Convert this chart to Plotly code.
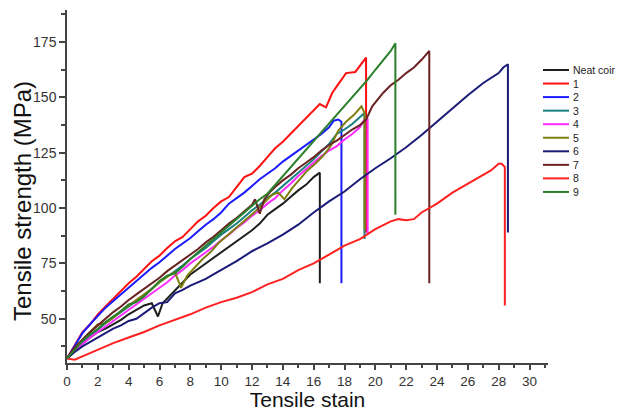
import plotly.graph_objects as go

# ---------------- data ----------------
names = ["Neat coir", "1", "2", "3", "4", "5", "6", "7", "8", "9"]
colors = ["#1e1e1e", "#ff1010", "#1a1aff", "#1a7f7f", "#ff2bff",
          "#7f7f10", "#1a1a78", "#6b2222", "#ff2020", "#2a7f2a"]

neat_x = [0, 0.5, 1, 1.5, 2, 2.5, 3, 3.5, 4, 4.5, 5, 5.5, 5.9, 6.2, 6.6, 7, 7.5, 8, 8.5, 9, 9.5, 10,
          10.5, 11, 11.5, 12, 12.5, 13, 13.5, 14, 14.5, 15, 15.5, 16, 16.4, 16.4]
neat_y = [32, 36, 39, 41.5, 44, 45.5, 47.5, 49.5, 52, 54, 56, 57, 51, 57, 60, 63, 66.5, 70, 72.5, 75, 77.5, 80,
          82.5, 85, 87.5, 90, 93, 97, 99.5, 102, 105, 108, 110.5, 114, 116, 66]

s1_x = [0, 0.5, 1, 1.5, 2, 2.5, 3, 3.5, 4, 4.5, 5, 5.5, 6, 6.5, 7, 7.5, 8, 8.5, 9, 9.5, 10, 10.5, 11, 11.5,
        12, 12.5, 13, 13.5, 14, 14.5, 15, 15.5, 16, 16.4, 16.8, 17.2, 17.6, 18.1, 18.7, 19.1, 19.4, 19.4]
s1_y = [32, 38, 44, 47.5, 52, 55.5, 59, 62.5, 66, 69, 72.5, 76, 78.5, 82, 85, 87, 90.5, 94, 96.5, 100, 103, 105,
        109.5, 114, 115.5, 119, 123, 127, 130, 133.5, 137, 140.5, 144, 147, 145.5, 152, 156, 161, 161.5, 165.5,
        168, 89]

s2_x = [0, 0.5, 1, 1.5, 2, 2.5, 3, 3.5, 4, 4.5, 5, 5.5, 6, 6.5, 7, 7.5, 8, 8.5, 9, 9.5, 10, 10.5, 11, 11.5,
        12, 12.5, 13, 13.5, 14, 14.5, 15, 15.5, 16, 16.5, 17, 17.3, 17.6, 17.8, 17.8]
s2_y = [32, 38, 43.5, 47.5, 51.5, 55, 58, 61, 64, 67, 70, 73, 75.5, 78.5, 81.5, 84, 86.5, 89.5, 92.5, 95, 98,
        102, 104.5, 107, 110, 113, 115.5, 118, 121, 123.5, 126, 128.5, 131, 133.5, 136.5, 139.5, 140, 139, 66]

s3_x = [0, 0.5, 1, 1.5, 2, 2.5, 3, 3.5, 4, 4.5, 5, 5.5, 6, 6.5, 7, 7.5, 8, 8.5, 9, 9.5, 10, 10.5, 11, 11.5,
        12, 12.5, 13, 13.5, 14, 14.5, 15, 15.5, 16, 16.5, 17, 17.5, 18, 18.5, 19, 19.3, 19.3]
s3_y = [32, 36, 39.5, 42.5, 45, 48, 50.5, 53, 55.5, 58, 60.5, 63.5, 66.5, 69, 71.5, 74, 77, 79.5, 82, 85, 88,
        90.5, 93, 96, 99, 101.5, 104.5, 107, 110, 113, 116, 119, 122, 125.5, 129, 133.5, 135.5, 138, 141, 143, 86]

s4_x = [0, 0.5, 1, 1.5, 2, 2.5, 3, 3.5, 4, 4.5, 5, 5.5, 6, 6.5, 7, 7.5, 8, 8.5, 9, 9.5, 10, 10.5, 11, 11.5,
        12, 12.5, 13, 13.5, 14, 14.5, 15, 15.5, 16, 16.5, 17, 17.5, 18, 18.5, 19, 19.3, 19.5, 19.5]
s4_y = [32, 35.5, 38.5, 41.5, 44, 46.5, 49, 51.5, 54, 56.5, 59, 61.5, 64, 66.5, 69.5, 72, 75, 77.5, 80, 82.5,
        85.5, 88, 91, 93.5, 96.5, 99, 102, 104.5, 108, 111, 114.5, 117.5, 120.5, 123.5, 126, 128, 131, 133.5,
        136.5, 140, 140, 88]

s5_x = [0, 0.5, 1, 1.5, 2, 2.5, 3, 3.5, 4, 4.5, 5, 5.5, 6, 6.5, 7, 7.4, 7.8, 8.3, 8.8, 9.3, 9.8, 10.3, 10.8,
        11.3, 11.8, 12.3, 12.8, 13.3, 13.7, 14.1, 14.6, 15.1, 15.6, 16.1, 16.6, 17.1, 17.6, 18.1, 18.6, 19.1,
        19.3, 19.3]
s5_y = [32, 36.5, 40.5, 44, 47.5, 48, 50.5, 53.5, 56, 58.5, 61, 63.5, 66.5, 69, 71, 64, 69.5, 73.5, 77, 80, 84,
        87, 90, 93, 96, 99, 102.5, 106, 107, 104, 109, 113, 117, 120, 123.5, 128, 135, 139, 142, 146, 143, 90]

s6_x = [0, 0.5, 1, 1.5, 2, 2.5, 3, 3.5, 4, 4.5, 5, 5.5, 6, 6.5, 7, 7.5, 8, 8.5, 9, 9.5, 10, 11, 12, 13, 14,
        15, 16, 17, 18, 19, 20, 21, 22, 23, 24, 25, 26, 27, 28, 28.3, 28.6, 28.6]
s6_y = [32, 35, 37.5, 39.5, 41.5, 43.5, 45.5, 47, 49, 50, 52.5, 55, 57, 57.5, 61.5, 63, 65, 66.5, 68, 70, 72,
        76, 80.5, 84, 88, 92.5, 98, 103, 107.5, 113, 118, 122.5, 127.5, 133, 139, 145, 151, 156.5, 161,
        163.5, 165, 89]

s7_x = [0, 0.5, 1, 1.5, 2, 2.5, 3, 3.5, 4, 4.5, 5, 5.5, 6, 6.5, 7, 7.5, 8, 8.5, 9, 9.5, 10, 10.5, 11, 11.5,
        12, 12.2, 12.5, 12.8, 13.2, 13.5, 14, 14.5, 15, 15.5, 16, 16.5, 17, 17.5, 18, 18.5, 19, 19.4, 19.8,
        20.1, 20.5, 21, 21.5, 22, 22.5, 23, 23.5, 23.5]
s7_y = [32, 37, 40.5, 44, 47, 50, 53, 55.5, 58.5, 61, 63.5, 66, 68.5, 71.5, 74, 76.5, 79, 81.5, 84.5, 87, 90,
        93, 95.5, 98.5, 101.5, 104, 97.5, 104, 107.5, 109.5, 112.5, 115, 118, 120.5, 123, 126, 128.5, 130.5,
        133, 135.5, 137.5, 140, 146, 148.5, 152, 155.5, 158, 161, 163.5, 167, 171, 66]

s8_x = [0, 0.5, 1, 2, 3, 4, 5, 6, 7, 8, 9, 10, 11, 12, 13, 14, 15, 16, 17, 18, 19, 20, 21, 21.5, 22, 22.5,
        23, 24, 25, 26, 27, 27.5, 28, 28.2, 28.4, 28.4]
s8_y = [32, 31.5, 33, 36, 39, 41.5, 44, 47, 49.5, 52, 55, 57.5, 59.5, 62, 65.5, 68, 72, 75, 79, 83, 86, 90.5,
        94, 95, 94.5, 95, 98, 102, 107, 111, 115, 117, 120, 120, 118.5, 56]

s9_x = [0, 0.5, 1, 1.5, 2, 2.5, 3, 3.5, 4, 4.5, 5, 5.5, 6, 6.5, 7, 7.5, 8, 8.5, 9, 9.5, 10, 10.5, 11, 11.5,
        12, 12.5, 13, 13.5, 14, 14.5, 15, 15.5, 16, 16.5, 17, 17.5, 18, 18.5, 19, 19.5, 20, 20.5, 21, 21.3, 21.3]
s9_y = [32, 36, 40, 43, 45.5, 48.5, 51, 53.5, 56.5, 57.5, 60, 63.5, 67, 69.5, 70.5, 73.5, 77, 80, 83, 86, 89,
        92, 95, 98, 101, 104, 106.5, 110.5, 114, 118, 122, 126, 130, 134, 138, 142, 146, 150, 154, 158, 162.5,
        166.5, 171, 174.5, 97]

series_x = [neat_x, s1_x, s2_x, s3_x, s4_x, s5_x, s6_x, s7_x, s8_x, s9_x]
series_y = [neat_y, s1_y, s2_y, s3_y, s4_y, s5_y, s6_y, s7_y, s8_y, s9_y]

y_ticks = [50, 75, 100, 125, 150, 175]
x_ticks = list(range(0, 31, 2))

# ---------------- figure ----------------
W, H = 617, 411
ML, MR, MT, MB = 67, 69, 10, 48
PW, PH = W - ML - MR, H - MT - MB
FONT = "Arial, Liberation Sans, sans-serif"

fig = go.Figure()
for nm, c, xs, ys in zip(names, colors, series_x, series_y):
    fig.add_trace(go.Scatter(x=xs, y=ys, mode="lines", name=nm,
                             line=dict(color=c, width=2), showlegend=False))

# pixel -> paper helpers for the layout furniture
def px_x(p):
    return (p - ML) / PW

def px_y(p):
    return (H - MB - p) / PH

# compact legend (Origin style), built from the names/colors lists
for i, (nm, c) in enumerate(zip(names, colors)):
    yy = 70 + i * 13.55
    fig.add_shape(type="line", xref="paper", yref="paper",
                  x0=px_x(543), x1=px_x(569), y0=px_y(yy), y1=px_y(yy),
                  line=dict(color=c, width=2))
    fig.add_annotation(xref="paper", yref="paper", x=px_x(571), y=px_y(yy),
                       xanchor="left", yanchor="middle", text=nm, showarrow=False,
                       font=dict(family=FONT, size=10.5, color="#222"))

# y-axis title, placed as in the original (slightly below the axis centre)
fig.add_annotation(xref="paper", yref="paper", x=px_x(22), y=px_y(201),
                   xanchor="center", yanchor="middle", textangle=-90, showarrow=False,
                   text="Tensile strength (MPa)",
                   font=dict(family=FONT, size=24, color="#111"))

axis_common = dict(showline=True, linecolor="#444", linewidth=1.5, showgrid=False, zeroline=False,
                   ticks="outside", tickwidth=1.5, tickcolor="#444", automargin=False)

fig.update_layout(
    width=W, height=H, margin=dict(l=ML, r=MR, t=MT, b=MB, autoexpand=False),
    paper_bgcolor="white", plot_bgcolor="white",
    xaxis=dict(range=[0, 31.2], tickmode="array", tickvals=x_ticks, ticklen=5,
               tickfont=dict(family=FONT, size=13.5, color="#333"),
               minor=dict(dtick=1, tick0=0, ticklen=3, tickwidth=1.5, tickcolor="#444", ticks="outside"),
               title=dict(text="Tensile stain", font=dict(family=FONT, size=21, color="#111"), standoff=0),
               **axis_common),
    yaxis=dict(range=[30, 189.5], tickmode="array", tickvals=y_ticks, ticklen=6,
               tickfont=dict(family=FONT, size=14, color="#333"),
               minor=dict(dtick=12.5, tick0=0, ticklen=4, tickwidth=1.5, tickcolor="#444", ticks="outside"),
               **axis_common),
)

fig.write_html("out.html", config={"displayModeBar": False},
               post_script="document.body.style.margin='0';document.body.style.padding='0';")
